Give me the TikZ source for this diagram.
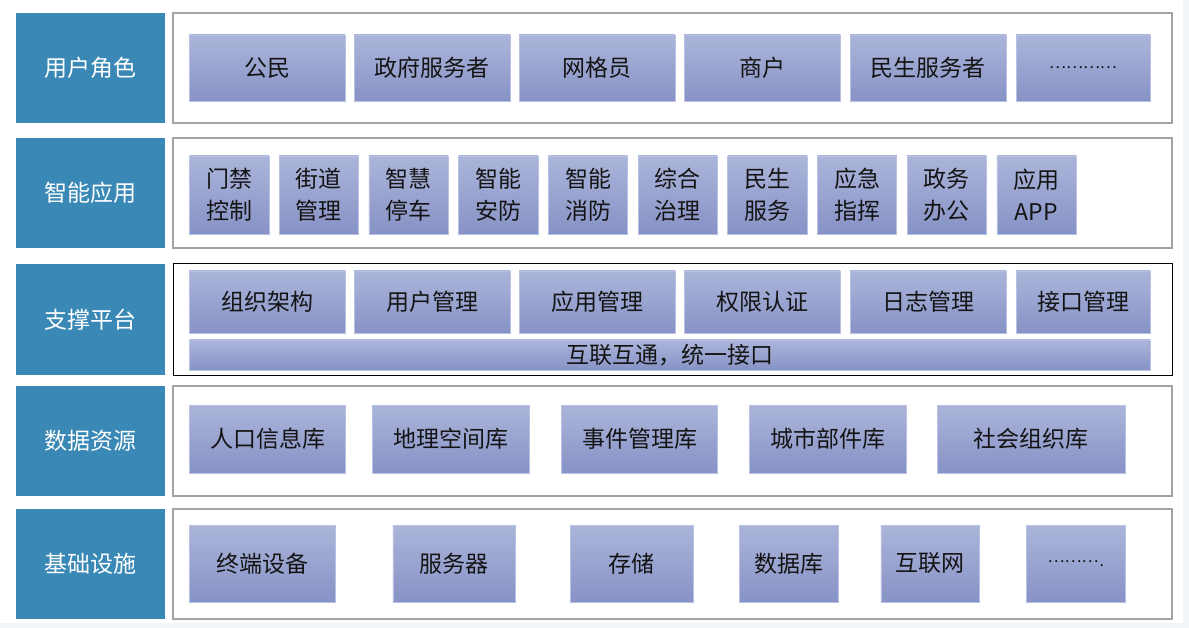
\documentclass[tikz,border=0pt]{standalone}
\usepackage{fontspec}
\newfontfamily\cjk{Noto Sans CJK SC}
\definecolor{layerblue}{HTML}{3A88B6}
\definecolor{itemtop}{HTML}{ABB5DA}
\definecolor{itembot}{HTML}{8792C6}
\definecolor{itemline}{HTML}{B9C1E2}
\definecolor{framegray}{HTML}{A3A3A3}
\definecolor{pagetint}{HTML}{F1F5FA}
\tikzset{
  layer/.style={fill=layerblue, draw=none, text=white, inner sep=0pt,
    font=\cjk\fontsize{23}{30}\selectfont},
  frame/.style={draw=framegray, line width=1.2pt, fill=white, inner sep=0pt},
  item/.style={top color=itemtop, bottom color=itembot, draw=itemline, line width=0.6pt,
    inner sep=0pt, text=black!92, align=center, font=\cjk\fontsize{23}{32}\selectfont},
  dots/.style={font=\cjk\fontsize{16}{20}\selectfont}
}
\begin{document}
\begin{tikzpicture}[x=1pt,y=-1pt]
                        \useasboundingbox (0,0) rectangle (1189,628);
                        % page tint and white sheet
                        \fill [pagetint] (0,0) rectangle (1189,628);
                        \fill [white] (0,0) rectangle (1183,623);

                        % Left column: layer names
                        \node [layer, minimum width=149pt, minimum height=110pt] (roles) at (90.5,68) {用户角色};
                        \node [layer, minimum width=149pt, minimum height=110pt] (apps) at (90.5,193) {智能应用};
                        \node [layer, minimum width=149pt, minimum height=111pt] (platform) at (90.5,319.5) {支撑平台};
                        \node [layer, minimum width=149pt, minimum height=110pt] (data) at (90.5,441) {数据资源};
                        \node [layer, minimum width=149pt, minimum height=110pt] (infra) at (90.5,564) {基础设施};

                        % Frames of the layers
                        \node [frame, minimum width=999pt, minimum height=110pt] (rolesframe) at (672.5,68) {};
                        \node [frame, minimum width=999pt, minimum height=110pt] (appsframe) at (672.5,193) {};
                        \node [frame, draw=black, line width=1pt, minimum width=999pt, minimum height=111pt] (platformframe) at (672.5,319.5) {};
                        \node [frame, minimum width=999pt, minimum height=110pt] (dataframe) at (672.5,441) {};
                        \node [frame, minimum width=999pt, minimum height=110pt] (infraframe) at (672.5,564) {};

                        % Row 1: user roles
                        \node [item, minimum width=156pt, minimum height=66pt] (citizen) at (267,68) {公民};
                        \node [item, minimum width=156pt, minimum height=66pt] (govserv) at (432,68) {政府服务者};
                        \node [item, minimum width=156pt, minimum height=66pt] (gridder) at (597,68) {网格员};
                        \node [item, minimum width=156pt, minimum height=66pt] (merchant) at (762,68) {商户};
                        \node [item, minimum width=156pt, minimum height=66pt] (liveserv) at (928,68) {民生服务者};
                        \node [item, dots, minimum width=134pt, minimum height=66pt] (moreroles) at (1083,68) {…………};

                        % Row 2: smart applications
                        \node [item, minimum width=79.3pt, minimum height=78pt] (access) at (229.2,195) {门禁\\控制};
                        \node [item, minimum width=79.3pt, minimum height=78pt] (street) at (318.9,195) {街道\\管理};
                        \node [item, minimum width=79.3pt, minimum height=78pt] (parking) at (408.6,195) {智慧\\停车};
                        \node [item, minimum width=79.3pt, minimum height=78pt] (security) at (498.3,195) {智能\\安防};
                        \node [item, minimum width=79.3pt, minimum height=78pt] (fire) at (588.0,195) {智能\\消防};
                        \node [item, minimum width=79.3pt, minimum height=78pt] (govern) at (677.7,195) {综合\\治理};
                        \node [item, minimum width=79.3pt, minimum height=78pt] (welfare) at (767.4,195) {民生\\服务};
                        \node [item, minimum width=79.3pt, minimum height=78pt] (emergency) at (857.1,195) {应急\\指挥};
                        \node [item, minimum width=79.3pt, minimum height=78pt] (office) at (946.8,195) {政务\\办公};
                        \node [item, minimum width=79.3pt, minimum height=78pt] (appitem) at (1036.5,195) {应用\\APP};

                        % Row 3: support platform
                        \node [item, minimum width=156pt, minimum height=62pt] (org) at (267,302) {组织架构};
                        \node [item, minimum width=156pt, minimum height=62pt] (usermgmt) at (432,302) {用户管理};
                        \node [item, minimum width=156pt, minimum height=62pt] (appmgmt) at (597,302) {应用管理};
                        \node [item, minimum width=156pt, minimum height=62pt] (auth) at (762,302) {权限认证};
                        \node [item, minimum width=156pt, minimum height=62pt] (logmgmt) at (928,302) {日志管理};
                        \node [item, minimum width=134pt, minimum height=62pt] (apimgmt) at (1083,302) {接口管理};
                        \node [item, minimum width=960.5pt, minimum height=30.5pt] (bus) at (669.75,355.25) {互联互通，统一接口};

                        % Row 4: data resources
                        \node [item, minimum width=156pt, minimum height=68pt] (popdb) at (267.5,439) {人口信息库};
                        \node [item, minimum width=156.6pt, minimum height=68pt] (geodb) at (451,439) {地理空间库};
                        \node [item, minimum width=156pt, minimum height=68pt] (eventdb) at (639.75,439) {事件管理库};
                        \node [item, minimum width=156.6pt, minimum height=68pt] (partdb) at (827.9,439) {城市部件库};
                        \node [item, minimum width=187.8pt, minimum height=68pt] (socdb) at (1031.3,439) {社会组织库};

                        % Row 5: infrastructure
                        \node [item, minimum width=146.2pt, minimum height=77pt] (terminal) at (262.6,563.5) {终端设备};
                        \node [item, minimum width=122.8pt, minimum height=77pt] (server) at (454.3,563.5) {服务器};
                        \node [item, minimum width=122.8pt, minimum height=77pt] (storage) at (631.7,563.5) {存储};
                        \node [item, minimum width=98.8pt, minimum height=77pt] (database) at (788.6,563.5) {数据库};
                        \node [item, minimum width=98.7pt, minimum height=77pt] (internet) at (930.25,563.5) {互联网};
                        \node [item, dots, minimum width=98.8pt, minimum height=77pt] (moreinfra) at (1075.8,563.5) {………\kern1pt\raisebox{-4pt}{.}};
                    \end{tikzpicture}
\end{document}
